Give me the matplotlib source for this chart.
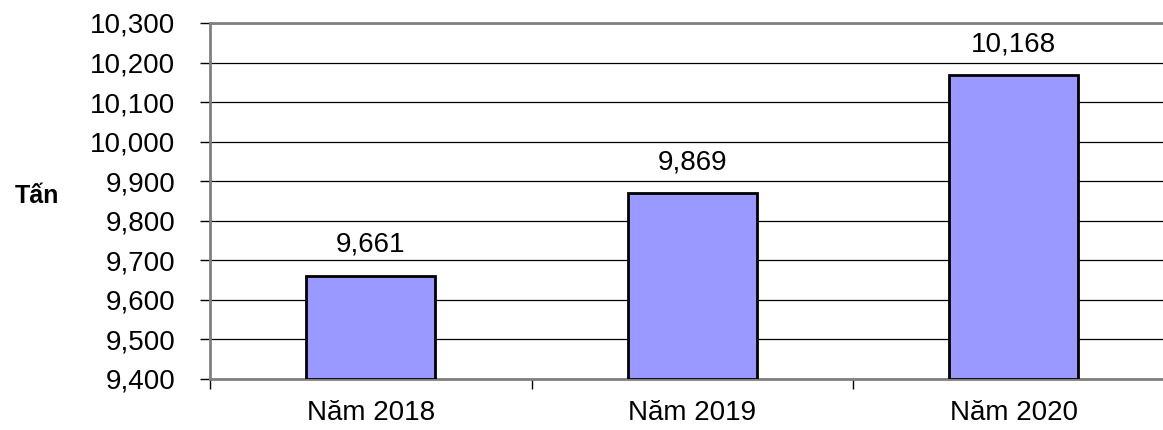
import matplotlib.pyplot as plt
from matplotlib.ticker import FuncFormatter, FixedLocator

plt.rcParams['font.family'] = ['Liberation Sans', 'DejaVu Sans']

years = ["Năm 2018", "Năm 2019", "Năm 2020"]
values = [9661, 9869, 10168]
value_labels = ["9,661", "9,869", "10,168"]
y_ticks = [9400, 9500, 9600, 9700, 9800, 9900, 10000, 10100, 10200, 10300]

fig = plt.figure(figsize=(11.63, 4.30), dpi=100)
# the plot area runs past the right edge of the picture, like the original
ax = fig.add_axes([210 / 1163, 1 - 379 / 430, 964.5 / 1163, 356 / 430])

x = list(range(len(years)))
ax.bar(x, [v - 9400 for v in values], bottom=9400, width=0.4,
       color='#9999FF', edgecolor='black', linewidth=2, zorder=3)

for xi, v, lab in zip(x, values, value_labels):
    ax.annotate(lab, (xi, v), xytext=(0, 13), textcoords='offset points',
                ha='center', va='bottom', fontsize=20)

ax.set_xlim(-0.5, 2.5)
ax.set_ylim(9400, 10300)
ax.set_yticks(y_ticks)
ax.yaxis.set_major_formatter(FuncFormatter(lambda v, p: f"{int(v):,}"))
ax.tick_params(axis='y', length=7, width=1, pad=18, labelsize=20, direction='out')
ax.yaxis.grid(True, color='black', linewidth=0.9)
ax.set_axisbelow(True)

ax.set_xticks(x)
ax.set_xticklabels(years)
ax.tick_params(axis='x', which='major', length=0, pad=15, labelsize=20)
ax.xaxis.set_minor_locator(FixedLocator([-0.5, 0.5, 1.5, 2.5]))
ax.tick_params(axis='x', which='minor', length=7, width=1, direction='out')

for side in ['left', 'bottom', 'top']:
    ax.spines[side].set_color('#808080')
    ax.spines[side].set_linewidth(2)
ax.spines['right'].set_visible(False)

fig.text(15 / 1163, 1 - 196 / 430, "Tấn", fontsize=18, fontweight='bold',
         ha='left', va='center')

fig.savefig('out.png', dpi=100)
